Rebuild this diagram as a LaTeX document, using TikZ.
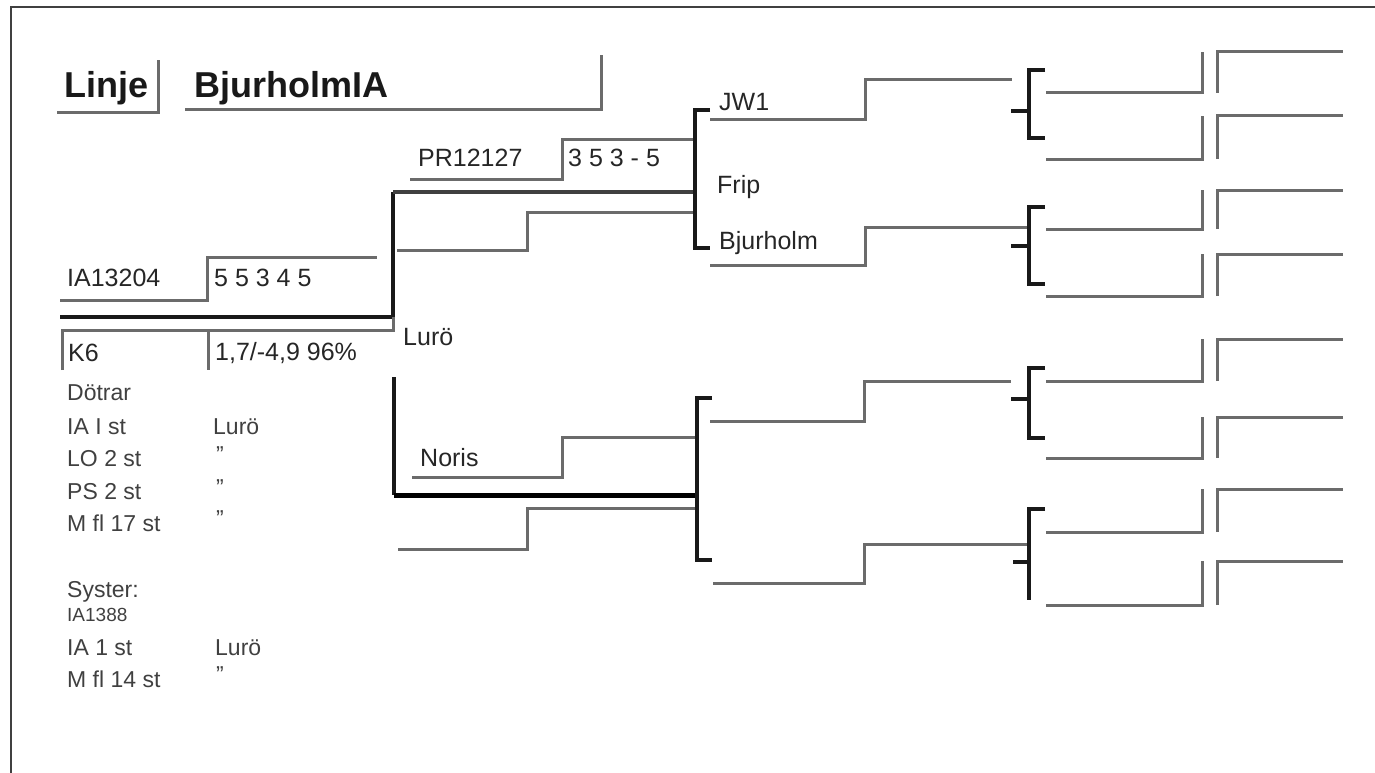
\documentclass[tikz,border=0pt]{standalone}
\usepackage{fontspec}
\setmainfont{Liberation Sans}
\usetikzlibrary{positioning}

\begin{document}
\begin{tikzpicture}[x=1pt, y=-1pt,
    gline/.style={draw=black!58, line width=3pt},
    mline/.style={draw=black!75, line width=3.5pt},
    bline/.style={draw=black!90, line width=4.5pt},
    lbl/.style={anchor=west, inner sep=0pt, text=black!85, font=\fontsize{25}{29}\selectfont},
    lst/.style={anchor=west, inner sep=0pt, text=black!75, font=\fontsize{23}{27}\selectfont},
    ttl/.style={anchor=west, inner sep=0pt, text=black!90, font=\fontsize{36}{40}\selectfont\bfseries}]
    \useasboundingbox (0,0) rectangle (1375,773);
    % Frame
    \draw[black!75, line width=1.2pt] (11,773) -- (11,7) -- (1375,7);

    % Title
    \node[ttl] (linje) at (64,88) {Linje};
    \node[ttl] (linjenamn) at (194,88) {BjurholmIA};
    \draw[gline] (57,113) -- (158,113) -- (158,60);
    \draw[gline] (185,110) -- (601,110) -- (601,55);

    % The queen
    \node[lbl] (ia) at (67,278) {IA13204};
    \node[lbl] (iapoang) at (214,278) {5 5 3 4 5};
    \draw[gline] (60,300) -- (207,300) -- (207,257) -- (377,257);
    \draw[bline] (60,317) -- (393,317);
    \draw[gline] (62,370) -- (62,330) -- (393,330) -- (393,317);
    \draw[gline] (208,330) -- (208,370);
    \node[lbl] (k6) at (68,353) {K6};
    \node[lbl] (index) at (215,353) {1,7/-4,9 96\%};

    % Father side
    \draw[bline] (393,192) -- (393,317);
    \node[lbl] (luro) at (403,337) {Lurö};
    \draw[mline] (393,192) -- (695,192);
    \node[lbl] (pr) at (418,158) {PR12127};
    \node[lbl] (prpoang) at (568,158) {3 5 3 - 5};
    \draw[gline] (410,179) -- (562,179) -- (562,139) -- (695,139);
    \draw[gline] (397,250) -- (527,250) -- (527,212) -- (695,212);
    \draw[bline] (710,110) -- (695,110) -- (695,248) -- (710,248);
    \node[lbl] (jw) at (719,102) {JW1};
    \node[lbl] (frip) at (717,187) {Frip};
    \node[lbl] (bjurholm) at (719,243) {Bjurholm};
    \draw[gline] (710,120) -- (865,120) -- (865,80) -- (1012,80);
    \draw[gline] (710,265) -- (865,265) -- (865,227) -- (1029,227);

    % Mother side
    \draw[bline] (394,377) -- (394,495);
    \draw[draw=black, line width=5pt] (394,495) -- (697,495);
    \node[lbl] (noris) at (420,458) {Noris};
    \draw[gline] (412,477) -- (562,477) -- (562,437) -- (697,437);
    \draw[gline] (398,549) -- (527,549) -- (527,508) -- (697,508);
    \draw[bline] (712,398) -- (697,398) -- (697,560) -- (712,560);
    \draw[gline] (710,421) -- (864,421) -- (864,381) -- (1011,381);
    \draw[gline] (713,583) -- (864,583) -- (864,544) -- (1029,544);

    % Grandparents
    \foreach \t/\b/\m in {70/138/111, 207/284/246, 368/438/399} {
      \draw[bline] (1045,\t) -- (1029,\t) -- (1029,\b) -- (1045,\b);
      \draw[bline] (1011,\m) -- (1029,\m);
    }
    \draw[bline] (1045,509) -- (1029,509) -- (1029,600);
    \draw[bline] (1013,562) -- (1029,562);

    % Outer generation
    \foreach \lo/\hi in {93/52, 159/116, 229/190, 296/254, 381/339, 458/417, 532/489, 605/561} {
      \draw[gline] (1046,\lo) -- (1202,\lo) -- (1202,\hi);
      \draw[gline] (1217,\lo) -- (1217,\hi) -- (1343,\hi);
    }

    % Daughters and sister
    \node[lst] (dottrar) at (67,393) {Dötrar};
    \node[lst] (d1) at (67,427) {IA I st};
    \node[lst] (d1l) at (213,427) {Lurö};
    \node[lst] (d2) at (67,459) {LO 2 st};
    \node[lst] (d2l) at (216,455) {\symbol{34}};
    \node[lst] (d3) at (67,492) {PS 2 st};
    \node[lst] (d3l) at (216,488) {\symbol{34}};
    \node[lst] (d4) at (67,523) {M fl 17 st};
    \node[lst] (d4l) at (216,519) {\symbol{34}};
    \node[lst] (syster) at (67,592) {Syster:};
    \node[lst, font=\fontsize{19}{23}\selectfont] (s0) at (67,615) {IA1388};
    \node[lst] (s1) at (67,648) {IA 1 st};
    \node[lst] (s1l) at (215,648) {Lurö};
    \node[lst] (s2) at (67,679) {M fl 14 st};
    \node[lst] (s2l) at (216,675) {\symbol{34}};
\end{tikzpicture}
\end{document}
